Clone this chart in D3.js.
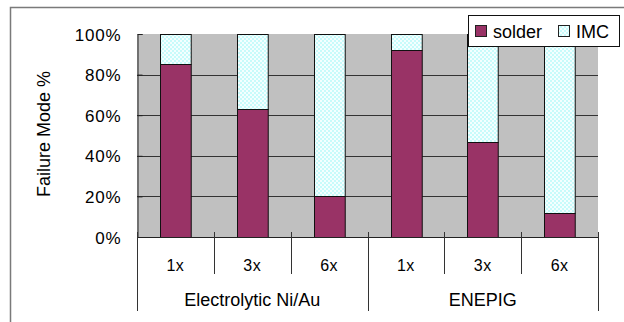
<!DOCTYPE html>
<html><head><meta charset="utf-8">
<script src="https://cdn.jsdelivr.net/npm/d3@7"></script>
<style>
html,body{margin:0;padding:0;background:#fff;}
text{font-family:"Liberation Sans",Arial,sans-serif;fill:#000;}
</style></head>
<body><svg id="chart" width="624" height="322"></svg>
<script>
const groups = ["Electrolytic Ni/Au", "ENEPIG"];
const categories = ["1x", "3x", "6x", "1x", "3x", "6x"];
const categoryGroup = [0, 0, 0, 1, 1, 1];
const solder = [85, 63, 20, 92, 47, 12];
const imc = [15, 37, 80, 8, 53, 88];
const seriesNames = ["solder", "IMC"];
const yTicks = [0, 20, 40, 60, 80, 100];

const svg = d3.select("#chart");
const W = 624, H = 322;
const plot = {left: 137, right: 598, top: 34, bottom: 237};

// pattern for IMC
const defs = svg.append("defs");
const pat = defs.append("pattern").attr("id", "dots").attr("patternUnits", "userSpaceOnUse")
  .attr("width", 4).attr("height", 4);
pat.append("rect").attr("width", 4).attr("height", 4).attr("fill", "#c8fbfb");
pat.append("rect").attr("x", 0).attr("y", 0).attr("width", 2).attr("height", 2).attr("fill", "#f4ffff");
pat.append("rect").attr("x", 2).attr("y", 2).attr("width", 2).attr("height", 2).attr("fill", "#f4ffff");

// outer frame (cropped at right/bottom)
svg.append("rect").attr("x", 10.5).attr("y", 7.5).attr("width", W).attr("height", H)
  .attr("fill", "none").attr("stroke", "#7a7a7a").attr("stroke-width", 1.5);

const idx = d3.range(categories.length);
const x = d3.scaleBand().domain(idx).range([plot.left, plot.right]).paddingInner(0.6).paddingOuter(0.3);
const xb = d3.scaleBand().domain(idx).range([plot.left, plot.right]);
const y = d3.scaleLinear().domain([0, 100]).range([plot.bottom, plot.top]);

// plot background
svg.append("rect").attr("x", plot.left).attr("y", plot.top)
  .attr("width", plot.right - plot.left).attr("height", plot.bottom - plot.top).attr("fill", "#c0c0c0");

// gridlines
svg.append("g").selectAll("line").data(yTicks.filter(d => d > 0 && d < 100)).join("line")
  .attr("x1", plot.left).attr("x2", plot.right)
  .attr("y1", d => Math.round(y(d)) + 0.5).attr("y2", d => Math.round(y(d)) + 0.5)
  .attr("stroke", "#333").attr("stroke-width", 1);

// y axis
const yAxis = d3.axisLeft(y).tickValues(yTicks).tickFormat(d => d + "%").tickSize(-5).tickPadding(16);
const gy = svg.append("g").attr("transform", `translate(${plot.left + 0.5},0)`).call(yAxis);
gy.select(".domain").attr("stroke", "#222");
gy.selectAll(".tick line").attr("stroke", "#222");
gy.selectAll(".tick text").attr("font-size", 17).attr("font-family", "Liberation Sans, Arial, sans-serif")
  .attr("fill", "#000").attr("letter-spacing", 0.8).attr("dy", "0.36em");

// stacked bars
const stackData = idx.map(i => ({i, solder: solder[i], IMC: imc[i]}));
const stacked = d3.stack().keys(seriesNames)(stackData);
const fills = {solder: "#993366", IMC: "url(#dots)"};
svg.append("g").selectAll("g").data(stacked).join("g")
  .attr("fill", d => fills[d.key])
  .selectAll("rect").data(d => d).join("rect")
  .attr("x", d => Math.round(x(d.data.i)) + 0.5)
  .attr("width", x.bandwidth())
  .attr("y", d => Math.round(y(d[1])) + 0.5)
  .attr("height", d => Math.round(y(d[0])) - Math.round(y(d[1])))
  .attr("stroke", "#111").attr("stroke-width", 1);

// x axis line
svg.append("line").attr("x1", plot.left).attr("x2", plot.right)
  .attr("y1", plot.bottom + 0.5).attr("y2", plot.bottom + 0.5).attr("stroke", "#222");

// category separators
const innerSeps = idx.slice(1).filter(i => categoryGroup[i] === categoryGroup[i - 1]);
svg.append("g").selectAll("line").data(innerSeps).join("line")
  .attr("x1", i => Math.round(xb(i)) + 0.5).attr("x2", i => Math.round(xb(i)) + 0.5)
  .attr("y1", plot.bottom - 5).attr("y2", 274).attr("stroke", "#333");

// group separators
const groupSeps = [plot.left, ...idx.slice(1).filter(i => categoryGroup[i] !== categoryGroup[i - 1]).map(i => xb(i)), plot.right];
svg.append("g").selectAll("line").data(groupSeps).join("line")
  .attr("x1", d => Math.round(d) + 0.5).attr("x2", d => Math.round(d) + 0.5)
  .attr("y1", plot.bottom - 5).attr("y2", 311).attr("stroke", "#333");

// category labels
svg.append("g").selectAll("text").data(idx).join("text")
  .attr("x", i => xb(i) + xb.bandwidth() / 2).attr("y", 271)
  .attr("text-anchor", "middle").attr("font-size", 16).attr("letter-spacing", 0.5)
  .text(i => categories[i]);

// group labels
svg.append("g").selectAll("text").data(groups).join("text")
  .attr("x", (g, gi) => {
    const members = idx.filter(i => categoryGroup[i] === gi);
    return (xb(members[0]) + xb(members[members.length - 1]) + xb.bandwidth()) / 2;
  })
  .attr("y", 306).attr("text-anchor", "middle").attr("font-size", 18)
  .text(d => d);

// y label
svg.append("text").attr("transform", "translate(50,134) rotate(-90)")
  .attr("text-anchor", "middle").attr("font-size", 18).text("Failure Mode %");

// legend
const lg = svg.append("g");
lg.append("rect").attr("x", 468.5).attr("y", 15.5).attr("width", 151).attr("height", 31)
  .attr("fill", "#fff").attr("stroke", "#111");
const legX = [475, 558];
seriesNames.forEach((s, k) => {
  lg.append("rect").attr("x", legX[k] + 0.5).attr("y", 25.5).attr("width", 11).attr("height", 11)
    .attr("fill", fills[s]).attr("stroke", "#222");
  lg.append("text").attr("x", legX[k] + 18).attr("y", 37.5).attr("font-size", 18).text(s);
});
</script></body></html>
